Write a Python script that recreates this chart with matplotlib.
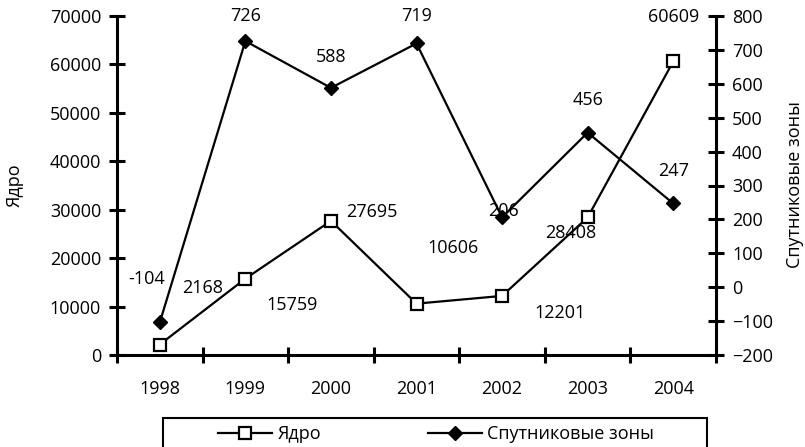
import matplotlib
matplotlib.use("Agg")
import matplotlib.pyplot as plt
from matplotlib.patches import Rectangle
from matplotlib.ticker import FixedLocator

plt.rcParams['font.family'] = ['Open Sans', 'DejaVu Sans']

years = ['1998', '1999', '2000', '2001', '2002', '2003', '2004']
core = [2168, 15759, 27695, 10606, 12201, 28408, 60609]
satellite = [-104, 726, 588, 719, 206, 456, 247]

# label offsets (px) from the markers, as Excel placed them
core_off = [(43, 57), (47, -26), (41, 9), (37, 56), (58, -17), (-17, -16), (0, 44)]
sat_off = [(-13, 43), (0, 25), (0, 31), (0, 27), (1, 6), (0, 33), (0, 32)]

W, H = 805, 447
fig = plt.figure(figsize=(W / 100, H / 100), dpi=100)
ax = fig.add_axes([117 / W, 1 - 355 / H, (716 - 117) / W, (355 - 16) / H])
ax2 = ax.twinx()

x = list(range(len(years)))
fs = 13

ln1, = ax.plot(x, core, color='black', lw=1.6, marker='s', markersize=8.5,
               markerfacecolor='white', markeredgecolor='black', markeredgewidth=1.6,
               label='Ядро', zorder=3)
ln2, = ax2.plot(x, satellite, color='black', lw=1.6, marker='D', markersize=7.4,
                markerfacecolor='black', markeredgecolor='black', label='Спутниковые зоны')

px = 72 / 100
for xi, v, (dx, dy) in zip(x, core, core_off):
    ax.annotate(str(v), (xi, v), xytext=(dx * px, dy * px), textcoords='offset points',
                ha='center', va='center', fontsize=fs)
for xi, v, (dx, dy) in zip(x, satellite, sat_off):
    ax2.annotate(str(v), (xi, v), xytext=(dx * px, dy * px), textcoords='offset points',
                 ha='center', va='center', fontsize=fs)

ax.set_xlim(-0.5, len(years) - 0.5)
ax.set_ylim(0, 70000)
ax2.set_ylim(-200, 800)
ax.set_yticks(range(0, 70001, 10000))
ax2.set_yticks(range(-200, 801, 100))
ax.set_xticks(x)
ax.set_xticklabels(years)
ax.xaxis.set_minor_locator(FixedLocator([i - 0.5 for i in range(len(years) + 1)]))

for a in (ax, ax2):
    for s in a.spines.values():
        s.set_linewidth(2.2)
    a.spines['top'].set_visible(False)
ax.spines['right'].set_visible(False)
ax2.spines['left'].set_visible(False)
ax2.spines['bottom'].set_visible(False)

ax.tick_params(axis='y', direction='inout', length=11, width=2.2, labelsize=fs, pad=6)
ax2.tick_params(axis='y', direction='inout', length=11, width=2.2, labelsize=fs, pad=6)
ax.tick_params(axis='x', which='major', length=0, labelsize=fs, pad=18)
ax.tick_params(axis='x', which='minor', direction='inout', length=11, width=2.2)

fig.text(15 / W, 1 - 185 / H, 'Ядро', rotation=90, ha='center', va='center', fontsize=fs)
fig.text(795 / W, 1 - 185 / H, 'Спутниковые зоны', rotation=90, ha='center', va='center',
         fontsize=fs)

# legend box
fig.patches.append(Rectangle((163 / W, -0.05), (707 - 163) / W, 0.05 + 1 - 418 / H,
                             transform=fig.transFigure, fill=False, edgecolor='black',
                             linewidth=1.5))
fig.legend([ln1, ln2], ['Ядро', 'Спутниковые зоны'], loc='center left',
           bbox_to_anchor=(218 / W, 1 - 434 / H), ncol=2, frameon=False, fontsize=fs,
           handlelength=3, handletextpad=0.3, columnspacing=5.9, borderpad=0,
           borderaxespad=0)

fig.savefig('out.png', dpi=100)
